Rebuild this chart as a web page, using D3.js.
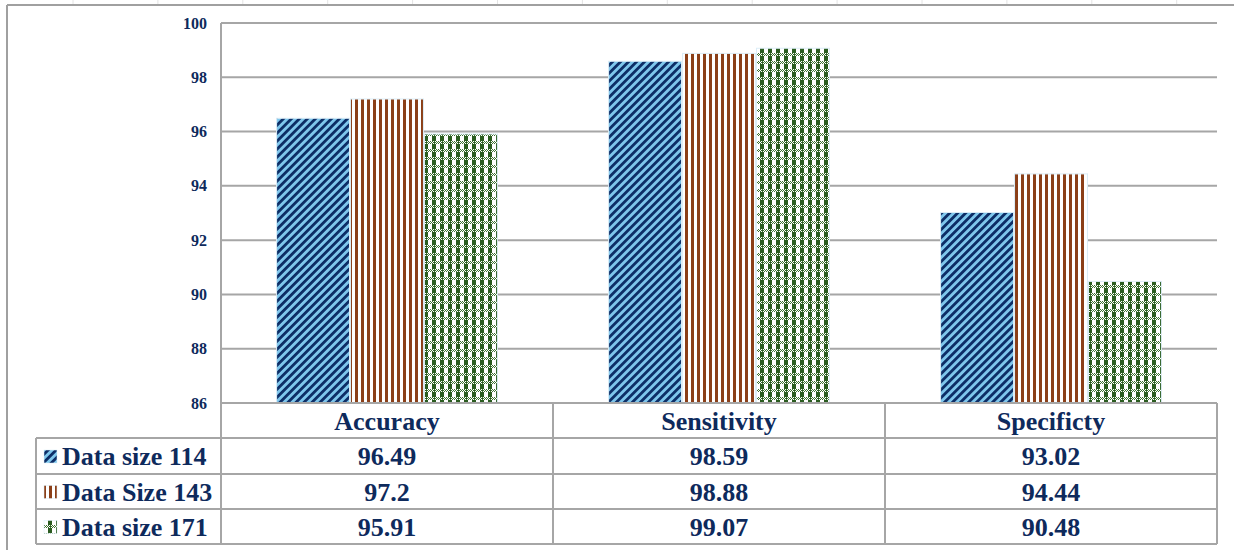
<!DOCTYPE html>
<html><head><meta charset="utf-8">
<script src="https://cdn.jsdelivr.net/npm/d3@7"></script>
<style>html,body{margin:0;padding:0;background:#fff;}svg{display:block;}
text{font-family:"Times New Roman",Times,"Liberation Serif",Tinos,"Noto Serif","DejaVu Serif",serif;font-weight:bold;}</style>
</head><body>
<svg id="c" width="1234" height="550"></svg>
<script>
const categories = ["Accuracy", "Sensitivity", "Specificty"];
const seriesNames = ["Data size 114", "Data Size 143", "Data size 171"];
const size114 = [96.49, 98.59, 93.02];
const size143 = [97.2, 98.88, 94.44];
const size171 = [95.91, 99.07, 90.48];
const seriesValues = [size114, size143, size171];
const valueLabels = [["96.49","98.59","93.02"],["97.2","98.88","94.44"],["95.91","99.07","90.48"]];
const yTicks = [86, 88, 90, 92, 94, 96, 98, 100];

(function(){
const svg = d3.select("#c");
const navy = "#0e2a5c";
const grid = "#a6a6a6";

// patterns
const defs = svg.append("defs");
const p1 = defs.append("pattern").attr("id","pat0").attr("patternUnits","userSpaceOnUse")
  .attr("width",5.66).attr("height",5.66).attr("patternTransform","rotate(45)");
p1.append("rect").attr("width",5.66).attr("height",5.66).attr("fill","#7ec6ec");
p1.append("rect").attr("width",2.8).attr("height",5.66).attr("fill","#0c2d66");
const p2 = defs.append("pattern").attr("id","pat1").attr("patternUnits","userSpaceOnUse")
  .attr("width",6).attr("height",6);
p2.append("rect").attr("width",6).attr("height",6).attr("fill","#ffffff");
p2.append("rect").attr("x",1).attr("width",3).attr("height",6).attr("fill","#8b3f18");
const p3 = defs.append("pattern").attr("id","pat2").attr("patternUnits","userSpaceOnUse")
  .attr("width",8).attr("height",8);
p3.append("rect").attr("width",8).attr("height",8).attr("fill","#ffffff");
p3.append("rect").attr("x",0).attr("y",0).attr("width",4).attr("height",8).attr("fill","#2a5c1f");
p3.append("rect").attr("x",0).attr("y",5).attr("width",8).attr("height",3).attr("fill","#ffffff");
[0,2,4,6].forEach(i=>{
  p3.append("rect").attr("x",i).attr("y",5).attr("width",1).attr("height",1).attr("fill","#3e7030");
  p3.append("rect").attr("x",i+1).attr("y",6).attr("width",1).attr("height",1).attr("fill","#3e7030");
  p3.append("rect").attr("x",i).attr("y",7).attr("width",1).attr("height",1).attr("fill","#3e7030");
});
p3.append("rect").attr("x",1).attr("y",6).attr("width",2).attr("height",1).attr("fill","#2a5c1f");

// outer frame
svg.append("line").attr("x1",7).attr("x2",1234).attr("y1",5).attr("y2",5).attr("stroke","#a0a0a0").attr("stroke-width",2);
svg.append("line").attr("x1",7).attr("x2",7).attr("y1",5).attr("y2",550).attr("stroke","#a0a0a0").attr("stroke-width",2);
d3.range(73, 1234, 84.9).forEach(x=>{
  svg.append("line").attr("x1",x).attr("x2",x).attr("y1",0).attr("y2",4).attr("stroke","#e4e4e4").attr("stroke-width",1);
});

const pL = 221, pR = 1217, pT = 23, pB = 403;
const y = d3.scaleLinear().domain([86,100]).range([pB, pT]);
const x0 = d3.scaleBand().domain(categories).range([pL, pR]).paddingInner(0).paddingOuter(0);
const x1 = d3.scaleBand().domain(seriesNames).range([0, x0.bandwidth()]).paddingInner(0).paddingOuter(0.745);

// gridlines
svg.append("g").selectAll("line").data(yTicks).join("line")
  .attr("x1",pL).attr("x2",pR).attr("y1",d=>y(d)).attr("y2",d=>y(d))
  .attr("stroke",grid).attr("stroke-width",2);

// y tick labels
svg.append("g").selectAll("text").data(yTicks).join("text")
  .attr("x",207).attr("y",d=>y(d)).attr("dy","0.35em").attr("text-anchor","end")
  .attr("font-size",16).attr("fill",navy)
  .text(d=>d);

// bars
seriesNames.forEach((s,si)=>{
  svg.append("g").selectAll("rect").data(categories).join("rect")
    .attr("x",c=>x0(c)+x1(s)+0.5)
    .attr("y",(c,ci)=>y(seriesValues[si][ci]))
    .attr("width",x1.bandwidth()-1)
    .attr("height",(c,ci)=>pB - y(seriesValues[si][ci]))
    .attr("fill",`url(#pat${si})`)
    .attr("stroke","#dcedf7").attr("stroke-width",1);
});

// data table
const rowH = [403, 438, 474, 509, 544];
const tLeft = 36;
const tg = svg.append("g");
tg.append("line").attr("x1",pL).attr("x2",pR).attr("y1",403).attr("y2",403).attr("stroke",grid).attr("stroke-width",2);
[438,474,509,544].forEach(yy=>{
  tg.append("line").attr("x1",tLeft).attr("x2",pR).attr("y1",yy).attr("y2",yy).attr("stroke",grid).attr("stroke-width",2);
});
tg.append("line").attr("x1",tLeft).attr("x2",tLeft).attr("y1",438).attr("y2",544).attr("stroke",grid).attr("stroke-width",2);
tg.append("line").attr("x1",pL).attr("x2",pL).attr("y1",pT).attr("y2",544).attr("stroke",grid).attr("stroke-width",2);
categories.forEach(c=>{
  tg.append("line").attr("x1",x0(c)+x0.bandwidth()).attr("x2",x0(c)+x0.bandwidth()).attr("y1",403).attr("y2",544).attr("stroke",grid).attr("stroke-width",2);
});
tg.selectAll("text.h").data(categories).join("text").attr("class","h")
  .attr("x",c=>x0(c)+x0.bandwidth()/2).attr("y",(rowH[0]+rowH[1])/2).attr("dy","0.35em")
  .attr("text-anchor","middle").attr("font-size",26).attr("fill",navy).text(c=>c);
seriesNames.forEach((s,si)=>{
  const cy = (rowH[si+1]+rowH[si+2])/2;
  tg.append("rect").attr("x",44).attr("y",cy-6).attr("width",13).attr("height",13)
    .attr("fill",`url(#pat${si})`).attr("stroke","#dcedf7").attr("stroke-width",0.5);
  tg.append("text").attr("x",62).attr("y",cy).attr("dy","0.35em")
    .attr("font-size",26).attr("fill",navy).text(s);
  categories.forEach((c,ci)=>{
    tg.append("text").attr("x",x0(c)+x0.bandwidth()/2).attr("y",cy).attr("dy","0.35em")
      .attr("text-anchor","middle").attr("font-size",26).attr("fill",navy).text(valueLabels[si][ci]);
  });
});
})();
</script>
</body></html>
